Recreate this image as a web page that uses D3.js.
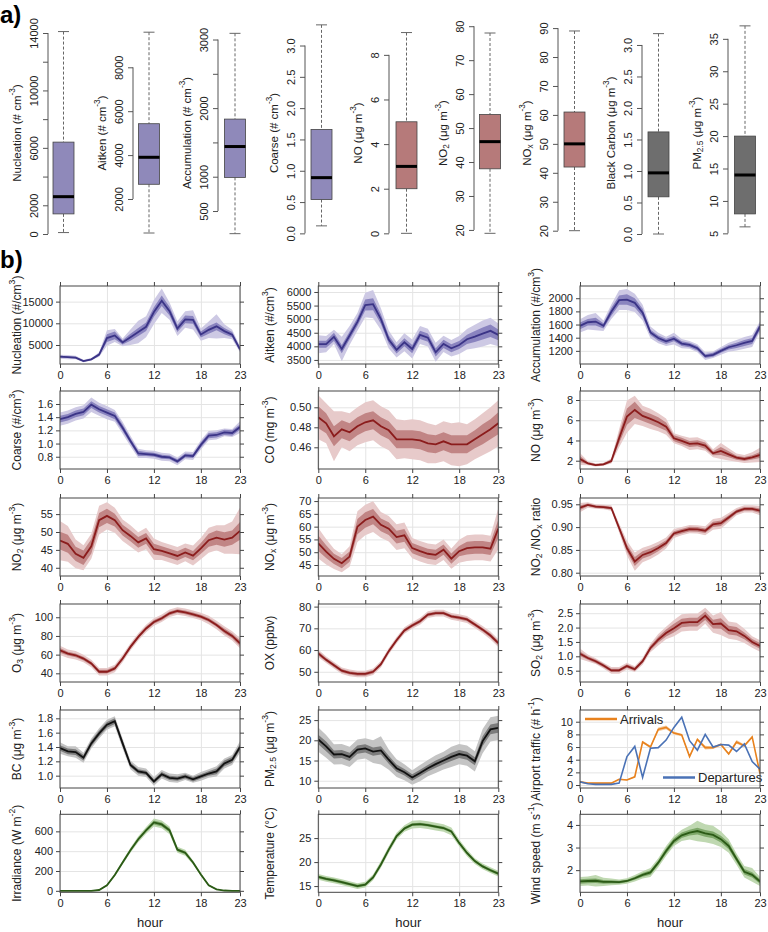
<!DOCTYPE html>
<html><head><meta charset="utf-8">
<script src="https://cdn.jsdelivr.net/npm/d3@7/dist/d3.min.js"></script>
<style>body{margin:0;background:#fff}svg{display:block}text{font-family:"Liberation Sans",Arial,sans-serif;fill:#222}</style>
</head><body><svg id="c" width="768" height="932"></svg>
<script>
// ---------- (a) box plot data ----------
const boxNames = ["Nucleation (# cm^{-3})","Aitken (# cm^{-3})","Accumulation (# cm^{-3})","Coarse (# cm^{-3})","NO (μg m^{-3})","NO_{2} (μg m^{-3})","NO_{x} (μg m^{-3})","Black Carbon (μg m^{-3})","PM_{2.5} (μg m^{-3})"];
const boxGroup = ["purple","purple","purple","purple","red","red","red","gray","gray"];
const boxLow    = [100, 450, 170, 0.12, 0.0, 19, 20, 0.0, 6];
const boxQ1     = [1400, 2670, 990, 0.54, 2.0, 38, 42, 0.59, 8];
const boxMedian = [2600, 3900, 1440, 0.89, 3.0, 46, 50, 0.97, 14];
const boxQ3     = [6400, 5430, 1840, 1.66, 5.0, 54, 61, 1.62, 20];
const boxHigh   = [14100, 9600, 3090, 3.33, 9.0, 78, 89, 3.18, 37];
const boxScaleDomain = [[0,14000],[405,9563],[165,3095],[-0.01,3.20],[-0.03,8.98],[18.8,78.0],[18.86,88.3],[0,3.19],[4.9,35.9]];
const boxTicks = [
  [0,2000,4000,6000,8000,10000,12000,14000],
  [2000,4000,6000,8000],
  [500,1000,1500,2000,2500,3000],
  [0,0.5,1,1.5,2,2.5,3],
  [0,2,4,6,8],
  [20,30,40,50,60,70,80],
  [20,30,40,50,60,70,80,90],
  [0,0.5,1,1.5,2,2.5,3],
  [5,10,15,20,25,30,35]];
const boxTickLabels = [
  ["0","2000","","6000","","10000","","14000"],
  ["2000","4000","6000","8000"],
  ["500","1000","","2000","","3000"],
  ["0.0","0.5","1.0","1.5","2.0","2.5","3.0"],
  ["0","2","4","6","8"],
  ["20","30","40","50","60","70","80"],
  ["20","30","40","50","60","70","80","90"],
  ["0.0","0.5","1.0","1.5","2.0","2.5","3.0"],
  ["5","10","15","20","25","30","35"]];

// ---------- (b) diurnal data ----------
const hours = [0,1,2,3,4,5,6,7,8,9,10,11,12,13,14,15,16,17,18,19,20,21,22,23];
const hourTicks = [0,6,12,18,23];

const nucleationMean  = [2300,2200,2100,1300,1700,2800,6600,7200,5600,6800,8000,9200,12600,15200,12800,8800,10900,10800,7400,8500,9300,8200,7400,4000];
const nucleationInner = [250,200,200,150,150,300,900,900,500,800,900,1000,1100,1200,1000,800,900,900,700,900,900,700,600,400];
const nucleationOuter = [450,500,400,300,300,500,1800,1500,900,1800,2600,2400,2800,2800,2000,1700,1900,2200,1400,1900,2800,1600,1100,700];

const aitkenMean  = [4080,4080,4350,3900,4400,4900,5520,5550,5000,4250,3870,4150,3900,4420,4320,3780,4090,3930,4050,4260,4360,4470,4570,4420];
const aitkenInner = [130,130,150,150,150,150,200,220,180,150,130,150,150,150,150,150,150,150,150,170,200,220,230,200];
const aitkenOuter = [330,300,260,450,350,330,450,520,400,330,280,330,350,330,330,350,300,300,330,380,430,480,480,420];

const accumMean  = [1580,1635,1645,1580,1795,1970,1980,1930,1780,1480,1395,1345,1385,1310,1290,1240,1120,1140,1200,1255,1285,1320,1350,1570];
const accumInner = [50,50,60,40,60,70,80,70,60,40,40,40,40,35,35,35,30,30,30,35,40,45,45,50];
const accumOuter = [100,110,130,80,110,150,160,140,120,90,80,70,90,70,60,60,60,50,60,70,80,90,90,80];

const coarseMean  = [1.37,1.40,1.45,1.48,1.59,1.52,1.47,1.42,1.24,1.04,0.85,0.84,0.83,0.80,0.79,0.73,0.82,0.81,0.98,1.12,1.13,1.17,1.16,1.25];
const coarseInner = [0.05,0.05,0.05,0.05,0.05,0.05,0.05,0.05,0.05,0.04,0.04,0.03,0.03,0.03,0.03,0.03,0.03,0.03,0.04,0.04,0.04,0.04,0.04,0.04];
const coarseOuter = [0.10,0.10,0.10,0.10,0.11,0.10,0.10,0.09,0.09,0.08,0.07,0.06,0.06,0.06,0.06,0.06,0.06,0.06,0.07,0.07,0.07,0.06,0.06,0.09];

const coMean  = [0.490,0.484,0.471,0.478,0.475,0.481,0.485,0.487,0.481,0.477,0.468,0.468,0.468,0.467,0.464,0.463,0.466,0.463,0.463,0.463,0.468,0.473,0.478,0.484];
const coInner = [0.011,0.010,0.010,0.009,0.009,0.009,0.009,0.009,0.009,0.009,0.009,0.009,0.009,0.009,0.009,0.009,0.009,0.009,0.009,0.009,0.009,0.010,0.010,0.011];
const coOuter = [0.022,0.020,0.025,0.018,0.019,0.019,0.020,0.020,0.020,0.020,0.020,0.019,0.020,0.020,0.020,0.019,0.020,0.021,0.022,0.020,0.020,0.021,0.022,0.023];

const noMean  = [2.17,1.74,1.57,1.64,1.97,4.22,6.36,7.02,6.43,6.13,5.80,5.37,4.22,3.96,3.66,3.72,3.49,2.73,2.96,2.63,2.30,2.17,2.33,2.57];
const noInner = [0.3,0.1,0.1,0.1,0.15,0.5,0.8,0.8,0.5,0.5,0.5,0.4,0.3,0.3,0.3,0.3,0.3,0.2,0.4,0.3,0.2,0.2,0.2,0.3];
const noOuter = [0.6,0.2,0.15,0.15,0.25,0.9,1.6,1.4,1.0,1.0,0.9,0.8,0.5,0.5,0.6,0.6,0.5,0.4,0.8,0.6,0.4,0.4,0.5,0.7];

const no2Mean  = [47.6,46.7,43.9,42.8,46.0,53.3,54.5,53.3,50.5,48.9,47.1,48.2,45.2,44.7,44.0,43.3,44.3,43.4,45.4,47.7,48.4,47.9,48.4,50.3];
const no2Inner = [2.5,2.5,2.0,2.0,2.0,2.0,2.0,1.8,1.5,1.5,1.5,1.5,1.5,1.3,1.3,1.3,1.3,1.3,1.5,1.8,2.0,2.0,2.0,2.5];
const no2Outer = [5.5,5.0,4.0,3.5,3.5,4.0,3.8,3.5,3.0,3.0,2.8,3.0,3.0,2.5,2.5,2.5,2.5,2.8,3.0,3.5,3.5,4.0,4.5,6.5];

const noxMean  = [53.5,50.2,47.4,45.7,48.3,60.0,62.6,63.9,60.7,59.2,55.9,56.6,51.6,50.4,49.4,49.0,51.0,47.5,50.4,51.6,51.9,51.9,51.4,59.2];
const noxInner = [3,2.5,2,2,2,3,3,3,2.5,2.5,2.5,2.5,2,2,2,2,2,2,2,2.5,2.5,2.5,2.5,3.5];
const noxOuter = [6,5,4,3.5,4,6,6,6,5,5,5,5,4,4,4,4,4,4,4.5,5,5,5,5,8];

const ratioMean  = [0.9426,0.9485,0.945,0.944,0.9418,0.898,0.854,0.8245,0.839,0.845,0.854,0.865,0.886,0.891,0.8955,0.895,0.892,0.906,0.9085,0.921,0.934,0.940,0.940,0.936];
const ratioInner = [0.005,0.003,0.003,0.003,0.003,0.005,0.008,0.010,0.008,0.008,0.007,0.006,0.005,0.005,0.005,0.005,0.005,0.006,0.006,0.005,0.004,0.004,0.004,0.005];
const ratioOuter = [0.010,0.006,0.005,0.005,0.006,0.010,0.016,0.020,0.016,0.015,0.014,0.012,0.010,0.009,0.009,0.009,0.010,0.012,0.012,0.010,0.008,0.008,0.008,0.010];

const o3Mean  = [64.6,61.0,59.3,55.8,50.5,41.7,41.7,45.2,55.8,68.3,79.0,88.0,95.0,98.9,104.2,106.7,105.3,103.2,100.7,97.1,91.8,85.4,80.0,72.2];
const o3Inner = [2.5,2,2,2,2,2,2,2,2,2,2,2,2,2,2,2,2,2,2,2,2,2.5,2.5,3];
const o3Outer = [5,4.5,4.5,4,4,4,4,4,4,4,4,4,4,4,4,4,4,4,4,4.5,4.5,5,5,5.5];

const oxMean  = [58.5,55.5,53.0,50.5,49.5,49.0,49.0,50.0,53.5,59.5,64.5,69.0,71.3,73.3,76.3,77.0,77.0,75.5,74.9,74.1,71.8,69.4,66.7,63.2];
const oxInner = [1,0.8,0.8,0.8,0.8,0.8,0.8,0.8,0.8,0.8,0.8,0.8,0.8,0.8,0.8,0.8,0.8,0.8,0.8,0.8,0.8,0.8,0.9,1];
const oxOuter = [1.8,1.5,1.5,1.5,1.5,1.5,1.5,1.5,1.5,1.5,1.5,1.5,1.5,1.6,1.6,1.6,1.6,1.6,1.6,1.6,1.6,1.7,1.8,1.8];

const so2Mean  = [1.09,0.94,0.83,0.68,0.51,0.51,0.66,0.55,0.83,1.29,1.58,1.81,1.98,2.16,2.19,2.19,2.41,2.12,2.14,1.91,1.87,1.71,1.50,1.36];
const so2Inner = [0.08,0.06,0.06,0.06,0.06,0.06,0.06,0.06,0.06,0.08,0.10,0.12,0.15,0.15,0.15,0.15,0.15,0.15,0.18,0.15,0.15,0.12,0.10,0.10];
const so2Outer = [0.18,0.12,0.10,0.10,0.12,0.12,0.12,0.10,0.12,0.15,0.20,0.22,0.28,0.30,0.30,0.30,0.28,0.30,0.40,0.30,0.30,0.25,0.20,0.20];

const bcMean  = [1.386,1.34,1.33,1.25,1.45,1.59,1.71,1.76,1.45,1.15,1.06,1.04,0.92,1.02,0.97,0.96,0.99,0.95,0.99,1.03,1.06,1.17,1.22,1.40];
const bcInner = [0.04,0.04,0.04,0.04,0.04,0.04,0.04,0.04,0.04,0.03,0.03,0.03,0.03,0.03,0.03,0.03,0.03,0.03,0.03,0.03,0.04,0.04,0.04,0.04];
const bcOuter = [0.08,0.07,0.08,0.07,0.07,0.07,0.07,0.07,0.07,0.06,0.06,0.06,0.06,0.06,0.06,0.06,0.05,0.05,0.06,0.06,0.07,0.07,0.07,0.08];

const pmMean  = [20.2,18.5,16.5,16.6,15.9,17.7,18.0,17.2,17.5,15.2,13.1,12.1,10.8,11.9,13.1,14.1,15.0,15.9,16.6,16.2,14.8,19.8,22.7,23.1];
const pmInner = [1.2,1.2,1.0,1.0,1.0,1.0,1.0,1.0,1.0,1.0,0.9,0.8,0.8,0.8,0.8,0.9,0.9,1.0,1.0,1.0,1.0,1.2,1.2,1.2];
const pmOuter = [3.0,2.8,2.5,2.5,2.5,2.5,2.5,2.8,3.5,2.5,2.2,2.0,1.8,2.0,2.0,2.2,2.2,2.5,2.5,2.5,2.5,3.0,3.0,3.0];

const arrivals    = [0.5,0.3,0.3,0.3,0.3,0.9,0.8,1.3,6.8,6.0,8.8,9.1,8.2,7.9,4.5,7.2,5.9,5.9,6.4,4.9,6.8,6.2,7.6,1.8];
const arrivalsCI  = [0.1,0.1,0.1,0.1,0.1,0.1,0.1,0.1,0.2,0.2,0.3,0.3,0.2,0.2,0.2,0.2,0.3,0.2,0.2,0.2,0.3,0.2,0.2,0.1];
const departures  = [0.5,0.2,0.1,0.1,0.1,0.3,4.5,6.1,1.2,5.8,5.9,7.1,9.1,10.7,7.0,5.5,8.0,6.0,6.4,6.3,5.3,6.5,3.7,2.5];

const irrMean  = [0,0,0,0,0,8,55,160,285,410,520,610,690,670,610,415,385,285,165,55,15,3,0,0];
const irrInner = [0,0,0,0,0,2,5,8,10,12,15,15,20,20,20,15,15,10,8,5,3,1,0,0];
const irrOuter = [2,2,2,2,2,4,10,15,20,25,30,35,40,40,40,30,30,20,15,10,5,2,2,2];

const tempMean  = [16.9,16.5,16.2,15.8,15.4,15.0,15.3,16.8,19.5,22.6,25.4,27.0,27.8,27.9,27.7,27.4,27.1,26.4,24.0,21.9,20.2,19.1,18.3,17.6];
const tempInner = [0.3,0.3,0.3,0.3,0.3,0.3,0.3,0.3,0.3,0.3,0.3,0.3,0.3,0.3,0.3,0.3,0.3,0.3,0.3,0.3,0.3,0.3,0.3,0.3];
const tempOuter = [0.6,0.6,0.6,0.6,0.6,0.6,0.6,0.6,0.7,0.7,0.7,0.7,0.8,0.8,0.8,0.8,0.8,0.8,0.7,0.7,0.6,0.6,0.6,0.6];

const windMean  = [1.50,1.52,1.53,1.48,1.48,1.47,1.52,1.64,1.79,1.90,2.33,2.85,3.29,3.54,3.66,3.73,3.63,3.56,3.37,3.07,2.49,1.93,1.79,1.50];
const windInner = [0.10,0.10,0.10,0.08,0.07,0.06,0.06,0.07,0.08,0.10,0.10,0.12,0.12,0.12,0.13,0.15,0.15,0.15,0.15,0.15,0.12,0.12,0.12,0.10];
const windOuter = [0.20,0.20,0.25,0.18,0.15,0.12,0.12,0.14,0.16,0.20,0.20,0.22,0.22,0.25,0.30,0.45,0.40,0.40,0.35,0.30,0.25,0.25,0.30,0.20];

const palette = {
  purple:{line:"#3b3487", inner:"#8a84bf", outer:"#cdc9e4", box:"#8f89ba"},
  red:   {line:"#8b1c1c", inner:"#c18585", outer:"#e7caca", box:"#b67a7a"},
  gray:  {line:"#111111", inner:"#7c7c7c", outer:"#c4c4c4", box:"#6e6e6e"},
  green: {line:"#2b5a16", inner:"#7ea86a", outer:"#bfd8b1"}
};

const panels = [
  {col:0,row:0,label:"Nucleation (#/cm^{3})",mean:nucleationMean,inner:nucleationInner,outer:nucleationOuter,domain:[620,18600],ticks:[5000,10000,15000],fmt:"d",color:"purple"},
  {col:1,row:0,label:"Aitken (#/cm^{3})",mean:aitkenMean,inner:aitkenInner,outer:aitkenOuter,domain:[3350,6220],ticks:[3500,4000,4500,5000,5500,6000],fmt:"d",color:"purple"},
  {col:2,row:0,label:"Accumulation (#/cm^{3})",mean:accumMean,inner:accumInner,outer:accumOuter,domain:[1000,2186],ticks:[1200,1400,1600,1800,2000],fmt:"d",color:"purple"},
  {col:0,row:1,label:"Coarse (#/cm^{3})",mean:coarseMean,inner:coarseInner,outer:coarseOuter,domain:[0.614,1.797],ticks:[0.8,1.0,1.2,1.4,1.6],fmt:".1f",color:"purple"},
  {col:1,row:1,label:"CO (mg m^{-3})",mean:coMean,inner:coInner,outer:coOuter,domain:[0.4383,0.5163],ticks:[0.46,0.48,0.50],fmt:".2f",color:"red"},
  {col:2,row:1,label:"NO (μg m^{-3})",mean:noMean,inner:noInner,outer:noOuter,domain:[1.18,8.89],ticks:[2,4,6,8],fmt:"d",color:"red"},
  {col:0,row:2,label:"NO_{2} (μg m^{-3})",mean:no2Mean,inner:no2Inner,outer:no2Outer,domain:[37.7,59.5],ticks:[40,45,50,55],fmt:"d",color:"red"},
  {col:1,row:2,label:"NO_{x} (μg m^{-3})",mean:noxMean,inner:noxInner,outer:noxOuter,domain:[40.7,71.2],ticks:[45,50,55,60,65,70],fmt:"d",color:"red"},
  {col:2,row:2,label:"NO_{2} /NO_{x} ratio",mean:ratioMean,inner:ratioInner,outer:ratioOuter,domain:[0.7928,0.9638],ticks:[0.80,0.85,0.90,0.95],fmt:".2f",color:"red"},
  {col:0,row:3,label:"O_{3} (μg m^{-3})",mean:o3Mean,inner:o3Inner,outer:o3Outer,domain:[30.7,114.2],ticks:[40,60,80,100],fmt:"d",color:"red"},
  {col:1,row:3,label:"OX (ppbv)",mean:oxMean,inner:oxInner,outer:oxOuter,domain:[45.3,81.2],ticks:[50,60,70,80],fmt:"d",color:"red"},
  {col:2,row:3,label:"SO_{2} (μg m^{-3})",mean:so2Mean,inner:so2Inner,outer:so2Outer,domain:[0.106,2.82],ticks:[0.5,1.0,1.5,2.0,2.5],fmt:".1f",color:"red"},
  {col:0,row:4,label:"BC (μg m^{-3})",mean:bcMean,inner:bcInner,outer:bcOuter,domain:[0.828,1.916],ticks:[1.0,1.2,1.4,1.6,1.8],fmt:".1f",color:"gray"},
  {col:1,row:4,label:"PM_{2.5} (μg m^{-3})",mean:pmMean,inner:pmInner,outer:pmOuter,domain:[8.2,27.5],ticks:[10,15,20,25],fmt:"d",color:"gray"},
  {col:2,row:4,label:"Airport traffic (# h^{-1})",traffic:true,domain:[-0.47,11.85],ticks:[0,2,4,6,8,10],fmt:"d"},
  {col:0,row:5,label:"Irradiance (W m^{-2})",mean:irrMean,inner:irrInner,outer:irrOuter,domain:[-15,772],ticks:[0,200,400,600],fmt:"d",color:"green"},
  {col:1,row:5,label:"Temperature (°C)",mean:tempMean,inner:tempInner,outer:tempOuter,domain:[13.7,29.96],ticks:[15,20,25],fmt:"d",color:"green"},
  {col:2,row:5,label:"Wind speed (m s^{-1})",mean:windMean,inner:windInner,outer:windOuter,domain:[1.02,4.47],ticks:[2,3,4],fmt:"d",color:"green"}
];

// ---------- helpers ----------
const svg = d3.select("#c");
function rich(sel, str, size){
  const re=/(\^|_)\{([^}]*)\}/g; let last=0,m; const parts=[];
  while((m=re.exec(str))){ if(m.index>last) parts.push([str.slice(last,m.index),0]); parts.push([m[2], m[1]==="^"?1:-1]); last=re.lastIndex; }
  if(last<str.length) parts.push([str.slice(last),0]);
  let shift=0;
  parts.forEach(([t,k])=>{
    const target = k===1 ? -0.42*size : (k===-1 ? 0.25*size : 0);
    sel.append("tspan").attr("dy",(target-shift)).attr("font-size",k?size*0.72:size).text(t);
    shift=target;
  });
  sel.attr("font-size",size);
  return sel;
}
function vlabel(x,y,str,size){
  const t=svg.append("text").attr("transform",`translate(${x},${y}) rotate(-90)`).attr("text-anchor","middle").attr("dominant-baseline","central");
  rich(t,str,size);
}

// ---------- (a) ----------
svg.append("text").attr("x",0).attr("y",23).attr("font-size",24).attr("font-weight","bold").style("fill","#000").text("a)");
const boxAxisX = [48,133,218,305,389,474,558,642,728];
const boxCX    = [63.5,149,235,321.5,406.5,490,574.5,658.5,745];
const BOXW = 21, CAPW = 11;
boxNames.forEach((name,i)=>{
  const y = d3.scaleLinear().domain(boxScaleDomain[i]).range([234,33]);
  const ax = svg.append("g").attr("transform",`translate(${boxAxisX[i]},0)`)
    .call(d3.axisLeft(y).tickValues(boxTicks[i]).tickSize(5).tickSizeOuter(0).tickFormat((d,j)=>boxTickLabels[i][j]));
  ax.select(".domain").remove();
  ax.append("line").attr("y1",y(boxTicks[i][0])).attr("y2",y(boxTicks[i][boxTicks[i].length-1])).attr("stroke","#555");
  ax.selectAll(".tick line").attr("stroke","#555");
  ax.selectAll(".tick text").attr("transform","rotate(-90)").attr("x",0).attr("y",-14).attr("dy",null)
    .attr("text-anchor","middle").attr("dominant-baseline","central").attr("font-size",11).attr("font-family",null).style("fill","#222");
  vlabel(boxAxisX[i]-31,133,name,11.5);
  const cx=boxCX[i], col=palette[boxGroup[i]].box;
  const g=svg.append("g");
  g.append("line").attr("x1",cx).attr("x2",cx).attr("y1",y(boxHigh[i])).attr("y2",y(boxQ3[i])).attr("stroke","#666").attr("stroke-dasharray","3,2");
  g.append("line").attr("x1",cx).attr("x2",cx).attr("y1",y(boxQ1[i])).attr("y2",y(boxLow[i])).attr("stroke","#666").attr("stroke-dasharray","3,2");
  [boxHigh[i],boxLow[i]].forEach(v=>g.append("line").attr("x1",cx-CAPW/2).attr("x2",cx+CAPW/2).attr("y1",y(v)).attr("y2",y(v)).attr("stroke","#666"));
  g.append("rect").attr("x",cx-BOXW/2).attr("width",BOXW).attr("y",y(boxQ3[i])).attr("height",y(boxQ1[i])-y(boxQ3[i])).attr("fill",col).attr("stroke","#444").attr("stroke-width",0.8);
  g.append("line").attr("x1",cx-BOXW/2).attr("x2",cx+BOXW/2).attr("y1",y(boxMedian[i])).attr("y2",y(boxMedian[i])).attr("stroke","#000").attr("stroke-width",3);
});

// ---------- (b) ----------
svg.append("text").attr("x",0).attr("y",268).attr("font-size",24).attr("font-weight","bold").style("fill","#000").text("b)");
const colX=[60,318.3,580], rowY=[286,391,498,604,710,814.3], PW=180, PH=78;
const labelX=[17,270,536];
const x = d3.scaleLinear().domain([0,23]).range([0,PW]);
const defs = svg.append("defs");
defs.append("clipPath").attr("id","pclip").append("rect").attr("width",PW).attr("height",PH);

function styleAxis(s){ s.select(".domain").remove(); s.selectAll(".tick line").attr("stroke","#444"); s.selectAll(".tick text").attr("font-size",11).attr("font-family",null).style("fill","#222"); }

panels.forEach(p=>{
  const g=svg.append("g").attr("transform",`translate(${colX[p.col]},${rowY[p.row]})`);
  const y=d3.scaleLinear().domain(p.domain).range([PH,0]);
  const f=d3.format(p.fmt);
  g.append("g").call(d3.axisBottom(x).tickValues(hourTicks).tickSize(PH).tickFormat(""))
    .call(s=>{s.select(".domain").remove(); s.selectAll("line").attr("stroke","#e4e4e4");});
  g.append("g").call(d3.axisRight(y).tickValues(p.ticks).tickSize(PW).tickFormat(""))
    .call(s=>{s.select(".domain").remove(); s.selectAll("line").attr("stroke","#e4e4e4");});
  const body=g.append("g").attr("clip-path","url(#pclip)");
  if(!p.traffic){
    const c=palette[p.color];
    const band=(hw)=>d3.area().x((d,i)=>x(hours[i])).y0((d,i)=>y(p.mean[i]-hw[i])).y1((d,i)=>y(p.mean[i]+hw[i]));
    body.append("path").attr("d",band(p.outer)(p.mean)).attr("fill",c.outer);
    body.append("path").attr("d",band(p.inner)(p.mean)).attr("fill",c.inner);
    body.append("path").attr("d",d3.line().x((d,i)=>x(hours[i])).y(d=>y(d))(p.mean)).attr("fill","none").attr("stroke",c.line).attr("stroke-width",1.8);
  } else {
    const aband=d3.area().x((d,i)=>x(hours[i])).y0((d,i)=>y(arrivals[i]-arrivalsCI[i])).y1((d,i)=>y(arrivals[i]+arrivalsCI[i]));
    body.append("path").attr("d",aband(arrivals)).attr("fill","#f3c99a");
    const ln=d3.line().x((d,i)=>x(hours[i])).y(d=>y(d));
    body.append("path").attr("d",ln(arrivals)).attr("fill","none").attr("stroke","#e8821e").attr("stroke-width",1.6);
    body.append("path").attr("d",ln(departures)).attr("fill","none").attr("stroke","#4a72b6").attr("stroke-width",1.6);
    g.append("line").attr("x1",5).attr("x2",37).attr("y1",9).attr("y2",9).attr("stroke","#e8821e").attr("stroke-width",2.5);
    g.append("text").attr("x",40).attr("y",9).attr("dominant-baseline","central").attr("font-size",13).text("Arrivals");
    g.append("line").attr("x1",83).attr("x2",115).attr("y1",67.5).attr("y2",67.5).attr("stroke","#4a72b6").attr("stroke-width",2.5);
    g.append("text").attr("x",118).attr("y",67.5).attr("dominant-baseline","central").attr("font-size",13).text("Departures");
  }
  g.append("rect").attr("width",PW).attr("height",PH).attr("fill","none").attr("stroke","#444").attr("stroke-width",1);
  g.append("g").call(d3.axisLeft(y).tickValues(p.ticks).tickSize(4).tickPadding(3).tickFormat(f)).call(styleAxis);
  g.append("g").attr("transform",`translate(${PW},0)`).call(d3.axisRight(y).tickValues(p.ticks).tickSize(4).tickFormat("")).call(styleAxis);
  g.append("g").call(d3.axisTop(x).tickValues(hourTicks).tickSize(4).tickFormat("")).call(styleAxis);
  g.append("g").attr("transform",`translate(0,${PH})`).call(d3.axisBottom(x).tickValues(hourTicks).tickSize(4).tickPadding(3).tickFormat(d3.format("d"))).call(styleAxis);
  vlabel(labelX[p.col], rowY[p.row]+PH/2, p.label, 12);
});
[0,1,2].forEach(c=>svg.append("text").attr("x",colX[c]+PW/2).attr("y",927).attr("text-anchor","middle").attr("font-size",13).text("hour"));
</script></body></html>
